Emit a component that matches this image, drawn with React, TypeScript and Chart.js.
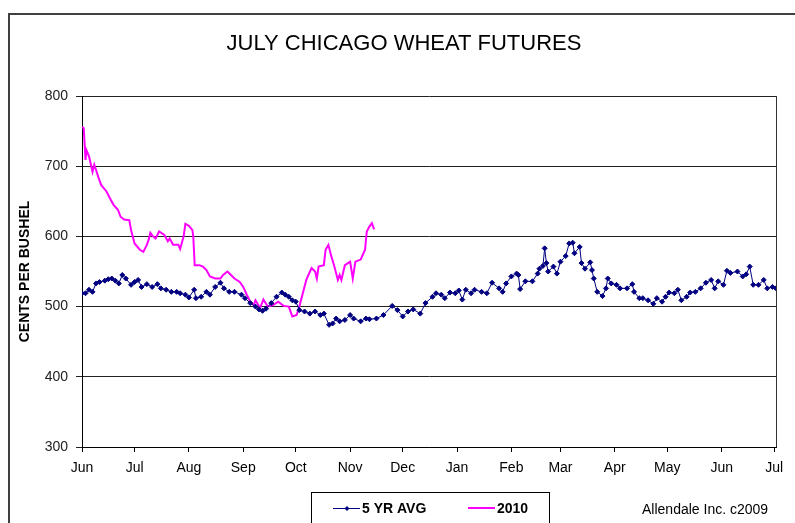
import React, { useEffect, useRef } from "react";
import { Chart, registerables } from "chart.js";

Chart.register(...registerables);

const FONT = "'Liberation Sans', Arial, sans-serif";

const monthDays = [0, 30, 61, 92, 122, 153, 183, 214, 245, 273, 304, 334, 365, 395];
const monthLabels = ["Jun", "Jul", "Aug", "Sep", "Oct", "Nov", "Dec", "Jan", "Feb", "Mar", "Apr", "May", "Jun", "Jul"];
const yTicks = [300, 400, 500, 600, 700, 800];

const avgDays = [
  0, 2, 4, 6, 8, 10, 13, 15, 17, 19, 21, 23, 25, 28, 30, 32, 34, 37, 40, 43, 45, 48, 51, 54, 56, 59, 61, 64, 65, 68,
  71, 73, 76, 79, 81, 84, 87, 91, 93, 96, 99, 101, 103, 105, 108, 111, 114, 116, 118, 120, 122, 124, 127, 130, 133,
  136, 138, 141, 143, 145, 147, 150, 153, 155, 159, 162, 164, 168, 172, 177, 180, 183, 186, 189, 193, 196, 200, 202,
  205, 207, 210, 213, 215, 217, 219, 222, 224, 228, 231, 234, 238, 240, 242, 245, 248, 249, 250, 253, 257, 260, 261,
  263, 264, 265, 266, 269, 271, 273, 276, 278, 280, 281, 284, 285, 287, 290, 291, 292, 294, 297, 299, 300, 302, 305,
  307, 311, 314, 315, 318, 320, 323, 326, 328, 331, 333, 335, 338, 340, 342, 345, 347, 350, 353, 356, 359, 361, 363,
  366, 368, 370, 374, 377, 379, 381, 383, 386, 389, 391, 394, 396,
];
const avgValues = [
  519, 519, 524, 521, 533, 535, 537, 539, 540, 537, 533, 545, 540, 531, 535, 538, 528, 532, 528, 532, 526, 524, 521,
  521, 519, 517, 513, 524, 512, 514, 521, 517, 528, 534, 526, 521, 521, 517, 512, 505, 500, 496, 494, 497, 505, 514,
  520, 517, 514, 509, 507, 495, 493, 490, 493, 488, 490, 474, 476, 483, 479, 481, 488, 483, 479, 483, 482, 483, 488,
  501, 495, 486, 493, 496, 490, 505, 514, 519, 517, 512, 520, 519, 523, 510, 524, 519, 524, 521, 519, 534, 526, 521,
  533, 543, 547, 545, 525, 536, 536, 547, 554, 558, 583, 562, 550, 557, 547, 564, 572, 590, 591, 576, 585, 562, 554,
  563, 552, 540, 521, 515, 526, 540, 533, 531, 526, 526, 532, 521, 512, 512, 509, 504, 512, 507, 514, 520, 519, 524,
  509, 514, 520, 521, 526, 534, 538, 526, 536, 531, 551, 548, 550, 543, 546, 557, 531, 531, 538, 526, 528, 526,
];

const y2010Days = [
  0, 1, 2, 2.5, 4, 6, 7, 8, 9.5, 11, 14, 16, 18, 20.5, 22, 24, 27, 28, 30, 33, 35, 37, 38, 39, 40.5, 42, 44, 47, 49,
  50, 52, 55, 56, 58, 59, 61, 63, 63.5, 64.3, 67, 69, 71, 73, 76, 79, 80.5, 83, 85, 87, 90, 92, 94, 96, 98, 99, 101.6,
  103.5, 106, 109, 112, 115, 118, 120, 122.5, 124, 126, 128, 129, 131, 133, 134, 135, 138, 139, 140.6, 142, 144, 146,
  147, 148, 150, 153, 154.5, 156, 159, 160.6, 161.5, 162.5, 164, 165.4, 166.7,
];
const y2010Values = [
  756, 754, 709, 723, 714, 692, 702, 695, 683, 673, 664, 654, 645, 638, 628, 624, 623, 609, 590, 581, 578, 588, 595,
  605, 600, 597, 607, 602, 593, 597, 588, 588, 582, 600, 618, 615, 609, 600, 559, 559, 557, 552, 543, 540, 540, 545,
  550, 545, 540, 535, 528, 517, 507, 502, 509, 498, 510, 500, 502, 507, 501, 500, 486, 488, 500, 519, 538, 544, 555,
  550, 540, 557, 559, 581, 588, 574, 557, 538, 545, 538, 559, 564, 540, 564, 567, 576, 581, 607, 614, 619, 610,
];

const extrasPlugin = {
  id: "extras",
  afterDraw(chart: any) {
    const ctx = chart.ctx as CanvasRenderingContext2D;
    const area = chart.chartArea;
    ctx.save();
    // outer border
    ctx.strokeStyle = "#404040";
    ctx.lineWidth = 2;
    ctx.strokeRect(9, 14, 820, 540);
    // plot right border
    ctx.strokeStyle = "#333";
    ctx.lineWidth = 1;
    ctx.beginPath();
    ctx.moveTo(Math.round(area.right) + 0.5, area.top);
    ctx.lineTo(Math.round(area.right) + 0.5, area.bottom);
    ctx.stroke();
    // title
    ctx.fillStyle = "#000";
    ctx.font = `22px ${FONT}`;
    ctx.textAlign = "center";
    ctx.textBaseline = "middle";
    ctx.fillText("JULY CHICAGO WHEAT FUTURES", 404, 44);
    // legend box
    ctx.strokeStyle = "#000";
    ctx.lineWidth = 1;
    ctx.strokeRect(311.5, 492.5, 238, 60);
    // 5 yr avg legend
    ctx.strokeStyle = "#000080";
    ctx.lineWidth = 1;
    ctx.beginPath();
    ctx.moveTo(333, 508.5);
    ctx.lineTo(360, 508.5);
    ctx.stroke();
    ctx.fillStyle = "#000080";
    ctx.beginPath();
    ctx.moveTo(347, 506);
    ctx.lineTo(349.5, 508.5);
    ctx.lineTo(347, 511);
    ctx.lineTo(344.5, 508.5);
    ctx.closePath();
    ctx.fill();
    ctx.fillStyle = "#000";
    ctx.font = `bold 14px ${FONT}`;
    ctx.textAlign = "left";
    ctx.fillText("5 YR AVG", 362, 509);
    // 2010 legend
    ctx.strokeStyle = "#FF00FF";
    ctx.lineWidth = 2;
    ctx.beginPath();
    ctx.moveTo(468, 508);
    ctx.lineTo(495, 508);
    ctx.stroke();
    ctx.fillText("2010", 497, 509);
    // credit
    ctx.font = `14px ${FONT}`;
    ctx.fillText("Allendale Inc. c2009", 642, 510);
    ctx.restore();
  },
};

export default function App() {
  const ref = useRef<HTMLCanvasElement | null>(null);

  useEffect(() => {
    if (!ref.current) return;
    const chart = new Chart(ref.current, {
      type: "line",
      data: {
        datasets: [
          {
            label: "5 YR AVG",
            data: avgDays.map((d, i) => ({ x: d, y: avgValues[i] })),
            borderColor: "#000080",
            backgroundColor: "#000080",
            borderWidth: 1,
            pointStyle: "rectRot",
            pointRadius: 2.5,
            pointBorderWidth: 1,
            pointBackgroundColor: "#000080",
            pointBorderColor: "#000080",
            tension: 0,
          },
          {
            label: "2010",
            data: y2010Days.map((d, i) => ({ x: d, y: y2010Values[i] })),
            borderColor: "#FF00FF",
            backgroundColor: "#FF00FF",
            borderWidth: 2,
            pointRadius: 0,
            tension: 0,
          },
        ],
      } as any,
      options: {
        responsive: false,
        animation: false,
        layout: { padding: { left: 0, top: 96, right: 19, bottom: 36 } },
        plugins: {
          legend: { display: false },
          title: { display: false },
          tooltip: { enabled: false },
        },
        scales: {
          x: {
            type: "linear",
            min: 0,
            max: 396,
            afterBuildTicks: (s: any) => {
              s.ticks = monthDays.map((v) => ({ value: v }));
            },
            afterFit: (s: any) => {
              s.height = 40;
            },
            ticks: {
              autoSkip: false,
              maxRotation: 0,
              padding: 8,
              color: "#000",
              font: { family: FONT, size: 14 },
              callback: (_v: any, i: number) => monthLabels[i],
            },
            grid: { drawOnChartArea: false, drawTicks: true, tickLength: 5, color: "#000" },
            border: { color: "#000", width: 1 },
          },
          y: {
            min: 300,
            max: 800,
            afterBuildTicks: (s: any) => {
              s.ticks = yTicks.map((v) => ({ value: v }));
            },
            afterFit: (s: any) => {
              s.width = 82;
            },
            ticks: {
              padding: 8,
              color: "#222",
              font: { family: FONT, size: 14 },
            },
            grid: { color: "#222", tickLength: 6, drawTicks: true },
            border: { color: "#000", width: 1 },
            title: {
              display: true,
              text: "CENTS PER BUSHEL",
              color: "#000",
              font: { family: FONT, size: 14, weight: "bold" },
              padding: { top: 16.6, bottom: 0 },
            },
          },
        },
      } as any,
      plugins: [extrasPlugin],
    });
    return () => chart.destroy();
  }, []);

  return (
    <div style={{ position: "absolute", left: 0, top: 0, width: 795, height: 523, background: "#fff" }}>
      <canvas ref={ref} width={795} height={523} style={{ display: "block" }} />
    </div>
  );
}
